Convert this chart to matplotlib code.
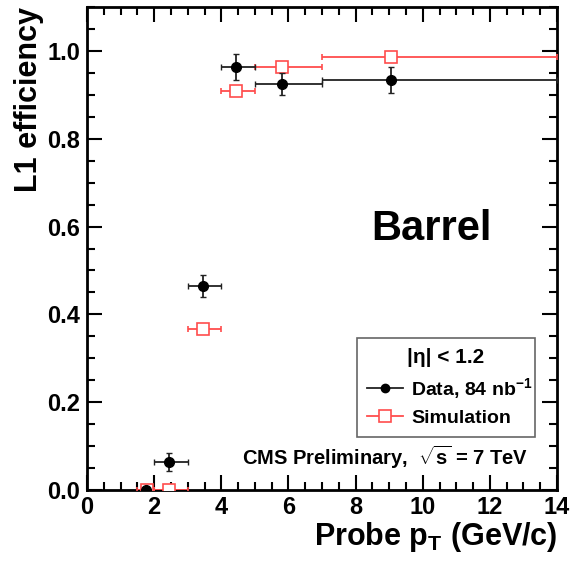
import matplotlib
matplotlib.use('Agg')

import matplotlib.pyplot as plt
from matplotlib.lines import Line2D
from matplotlib.ticker import MultipleLocator

plt.rcParams['font.family'] = ['Liberation Sans', 'DejaVu Sans']
plt.rcParams['mathtext.fontset'] = 'custom'
plt.rcParams['mathtext.rm'] = 'Liberation Sans:bold'
plt.rcParams['mathtext.it'] = 'Liberation Sans:bold:italic'
plt.rcParams['mathtext.bf'] = 'Liberation Sans:bold'

# probe pT bins
data_pt = [1.75, 2.45, 3.45, 4.45, 5.8, 9.05]
data_pt_lo = [1.75, 2.0, 3.0, 4.0, 5.0, 7.0]
data_pt_hi = [1.75, 3.0, 4.0, 5.0, 7.0, 14.0]
data_eff = [0.0, 0.064, 0.465, 0.963, 0.924, 0.934]
data_err = [0.0, 0.02, 0.025, 0.03, 0.025, 0.03]

sim_pt = [1.8, 2.45, 3.45, 4.45, 5.8, 9.05]
sim_pt_lo = [1.5, 2.0, 3.0, 4.0, 5.0, 7.0]
sim_pt_hi = [2.0, 3.0, 4.0, 5.0, 7.0, 14.0]
sim_eff = [0.0, 0.0, 0.367, 0.909, 0.964, 0.987]

fig = plt.figure(figsize=(5.71, 5.61), dpi=100)
ax = fig.add_axes([87 / 571, 71 / 561, 470 / 571, 483 / 561])

red = '#ff4d4d'
sim_xerr = [[p - lo for p, lo in zip(sim_pt, sim_pt_lo)],
            [hi - p for p, hi in zip(sim_pt, sim_pt_hi)]]
ax.errorbar(sim_pt, sim_eff, xerr=sim_xerr, fmt='s', color=red, mfc='white',
            mec=red, ms=9, mew=1.2, elinewidth=1.3, capsize=2, zorder=3)

data_xerr = [[p - lo for p, lo in zip(data_pt, data_pt_lo)],
             [hi - p for p, hi in zip(data_pt, data_pt_hi)]]
ax.errorbar(data_pt, data_eff, xerr=data_xerr, yerr=data_err, fmt='o',
            color='#222222', mfc='black', mec='black', ms=7,
            elinewidth=1.3, capsize=2, zorder=4)

ax.set_xlim(0, 14)
ax.set_ylim(0, 1.1)
ax.xaxis.set_major_locator(MultipleLocator(2))
ax.xaxis.set_minor_locator(MultipleLocator(0.5))
ax.yaxis.set_major_locator(MultipleLocator(0.2))
ax.yaxis.set_minor_locator(MultipleLocator(0.05))
ax.tick_params(which='both', direction='in', top=True, right=True,
               width=1.5, labelsize=17)
ax.tick_params(which='major', length=11, pad=5)
ax.tick_params(axis='x', which='major', pad=4)
ax.tick_params(which='minor', length=6)
ax.set_xticks(range(0, 15, 2))
ax.set_xticklabels([str(v) for v in range(0, 15, 2)], fontweight='bold')
ax.set_yticks([0, 0.2, 0.4, 0.6, 0.8, 1.0])
ax.set_yticklabels(['0.0', '0.2', '0.4', '0.6', '0.8', '1.0'],
                   fontweight='bold')
for s in ax.spines.values():
    s.set_linewidth(2)

ax.set_ylabel('L1 efficiency', fontsize=22, fontweight='bold',
              loc='top', labelpad=2)
ax.set_xlabel('Probe p$_{\\mathrm{T}}$ (GeV/c)', fontsize=22,
              fontweight='bold', loc='right', labelpad=1)

ax.text(0.733, 0.54, 'Barrel', transform=ax.transAxes, fontsize=30,
        fontweight='bold', ha='center', va='center')
ax.text(0.635, 0.068, 'CMS Preliminary,  $\\sqrt{\\mathrm{s}}$ = 7 TeV',
        transform=ax.transAxes, fontsize=14.5, fontweight='bold',
        ha='center', va='center')

handles = [
    Line2D([], [], color='#222222', marker='o', ms=6, mfc='black',
           mec='black', lw=1.3),
    Line2D([], [], color=red, marker='s', ms=9, mfc='white', mec=red,
           mew=1.2, lw=1.3),
]
labels = ['Data, 84 nb$^{-1}$', 'Simulation']
leg = ax.legend(handles, labels, title='|η| < 1.2',
                loc='lower left', bbox_to_anchor=(0.574, 0.11, 0.38, 0.22),
                mode='expand', fancybox=False, edgecolor='#666666',
                framealpha=1, prop={'weight': 'bold', 'size': 14},
                handlelength=1.9, borderaxespad=0, handletextpad=0.4,
                borderpad=0.5, labelspacing=0.45)
leg.get_title().set_fontweight('bold')
leg.get_title().set_fontsize(15)
leg.get_frame().set_linewidth(1.2)

fig.savefig('out.png', dpi=100)
